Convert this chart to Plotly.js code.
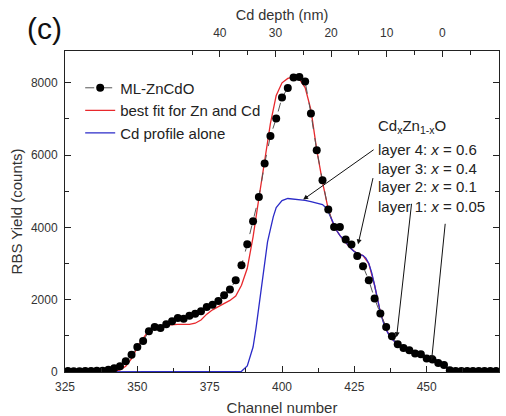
<!DOCTYPE html>
<html><head><meta charset="utf-8">
<script src="https://cdn.plot.ly/plotly-3.0.1.min.js"></script>
<style>html,body{margin:0;padding:0;background:#fff}#chart{width:506px;height:416px}</style>
</head><body><div id="chart"></div>
<script>
// Measured data (ML-ZnCdO)
const channels = [326,328,330,332,334,336,338,340,342,344,346,348,350,352,354,356,358,360,362,364,366,368,370,372,374,376,378,380,382,384,386,388,390,392,394,396,398,400,402,404,406,408,410,412,414,416,418,420,422,424,426,428,430,432,434,436,438,440,442,444,446,448,450,452,454,456,458,460,462,464,466,468,470,472,474];
const yields = [28,19,19,28,28,37,37,65,102,158,296,480,692,858,1126,1246,1218,1320,1402,1494,1476,1559,1614,1679,1798,1863,1964,2122,2279,2537,2952,3533,4169,4841,5765,6528,7010,7591,7856,8144,8160,8033,7148,6133,5303,4492,4011,4011,3662,3524,3209,2924,2537,2030,1615,1245,988,766,664,600,509,490,371,343,249,194,47,30,25,30,25,30,25,30,25];

// Best fit for Zn and Cd
const fitCh = [325,340,342,344,346,348,350,352,354,356,358,360,364,368,370,372,374,376,378,380,382,384,386,388,390,392,394,396,398,400,402,404,406,408,410,412,414,416,418,420,422,424,426,428,430,432,434,436,438,440,444,448,452,455,458,460,475];
const fitY  = [0,0,10,60,160,370,680,930,1150,1250,1285,1300,1315,1320,1350,1440,1600,1720,1810,1890,1980,2100,2400,2870,3740,4800,5880,6880,7650,8000,8120,8160,8100,7870,7250,6150,5250,4500,4020,3780,3580,3400,3280,3220,3000,2400,1650,1170,910,770,550,455,400,220,40,0,0];

// Cd profile alone
const cdCh = [325,384,386,388,390,391,392,393,394,395,396,397,398,400,402,404,406,408,410,412,414,415,416,417,418,419,420,421,422,423,424,425,426,427,428,429,430,431,432,433,434,435,436,437,438,440,442,444,446,448,450,452,453,454,455,456,457,458,459,460,475];
const cdY  = [0,0,20,170,690,1200,1800,2450,3050,3600,3950,4300,4550,4740,4800,4790,4770,4750,4710,4680,4630,4560,4430,4250,4050,3900,3780,3680,3580,3480,3400,3330,3280,3250,3220,3150,3000,2750,2400,2000,1650,1380,1170,1020,910,770,650,550,490,455,430,400,350,290,220,150,90,40,10,0,0];

// Top axis (Cd depth) ticks
const depthTicks = [40,30,20,10,0];
const depthMinor = [45,35,25,15,5,-5];

// Layer labels and arrow targets [tipChannel, tipYield, tailChannel, tailYield]
const layerLabels = ['layer 4: <i>x</i> = 0.6','layer 3: <i>x</i> = 0.4','layer 2: <i>x</i> = 0.1','layer 1: <i>x</i> = 0.05'];
const layerLabelY = [6152,5627,5118,4592];
const arrowTips = [[407.3,4769],[426.3,3532],[439.6,960],[451.7,324]];
const arrowTails = [[432.7,6207],[432.1,5599],[445.1,4888],[456.7,4335]];

const FONT = 'Liberation Sans, Arial, sans-serif';
const traces = [
  {x: fitCh, y: fitY, type:'scatter', mode:'lines', name:'best fit for Zn and Cd',
   line:{color:'#e8282c', width:1.3}, legendrank:2},
  {x: cdCh, y: cdY, type:'scatter', mode:'lines', name:'Cd profile alone',
   line:{color:'#2b2bc8', width:1.3}, legendrank:3},
  {x: channels, y: yields, type:'scatter', mode:'lines+markers', name:'ML-ZnCdO',
   line:{color:'#555', width:1, dash:'dash'}, marker:{color:'#000', size:8}, legendrank:1},
  {x:[325,475], y:[null,null], xaxis:'x2', type:'scatter', mode:'lines', showlegend:false, hoverinfo:'skip'}
];

const annotations = [
  {xref:'paper', yref:'paper', x:-0.048, y:1.07, xanchor:'center', yanchor:'middle', text:'(c)', showarrow:false, font:{family:FONT, size:30, color:'#111'}},
  {xref:'x', yref:'y', x:432.6, y:6797, xanchor:'left', yanchor:'middle', text:'Cd<sub>x</sub>Zn<sub>1-x</sub>O', showarrow:false, font:{family:FONT, size:15, color:'#222'}}
];
layerLabels.forEach((t,i)=>annotations.push({xref:'x', yref:'y', x:432.6, y:layerLabelY[i], xanchor:'left', yanchor:'middle', text:t, showarrow:false, font:{family:FONT, size:15, color:'#222'}}));
arrowTips.forEach((p,i)=>annotations.push({xref:'x', yref:'y', x:p[0], y:p[1], axref:'x', ayref:'y', ax:arrowTails[i][0], ay:arrowTails[i][1], text:' ', showarrow:true, arrowhead:2, arrowsize:1, arrowwidth:1, arrowcolor:'#111', standoff:0, startstandoff:0}));

const layout = {
  width:506, height:416,
  margin:{l:65, r:7, t:51, b:44},
  paper_bgcolor:'#fff', plot_bgcolor:'#fff',
  font:{family:FONT, color:'#333'},
  showlegend:true,
  legend:{x:0.035, y:0.936, xanchor:'left', yanchor:'top', bgcolor:'rgba(0,0,0,0)', font:{family:FONT, size:15, color:'#222'}, tracegroupgap:0},
  xaxis:{range:[325,475], tickvals:[325,350,375,400,425,450,475], ticks:'inside', ticklen:6, tickcolor:'#222', showline:true, linecolor:'#222', linewidth:1, mirror:false, showgrid:false, zeroline:false,
    minor:{tickvals:[337.5,362.5,387.5,412.5,437.5,462.5], ticks:'inside', ticklen:4, tickcolor:'#222', showgrid:false},
    tickfont:{family:FONT, size:12, color:'#333'}, ticklabelstandoff:4,
    title:{text:'Channel number', font:{family:FONT, size:15, color:'#333'}, standoff:11}},
  xaxis2:{overlaying:'x', side:'top', anchor:'y', range:[67.83,-10.19], tickvals:depthTicks, ticks:'inside', ticklen:6, tickcolor:'#222', showline:true, linecolor:'#222', linewidth:1, showgrid:false, zeroline:false,
    minor:{tickvals:depthMinor, ticks:'inside', ticklen:4, tickcolor:'#222', showgrid:false},
    tickfont:{family:FONT, size:12, color:'#333'}, ticklabelstandoff:8,
    title:{text:'Cd depth (nm)', font:{family:FONT, size:14.5, color:'#333'}, standoff:2}},
  yaxis:{range:[0,8880], tickvals:[0,2000,4000,6000,8000], ticks:'inside', ticklen:6, tickcolor:'#222', showline:true, linecolor:'#222', linewidth:1, mirror:'ticks', showgrid:false, zeroline:false,
    minor:{tickvals:[1000,3000,5000,7000], ticks:'inside', ticklen:4, tickcolor:'#222', showgrid:false},
    tickfont:{family:FONT, size:12, color:'#333'}, ticklabelstandoff:4,
    title:{text:'RBS Yield (counts)', font:{family:FONT, size:15, color:'#333'}, standoff:4}},
  annotations: annotations
};
Plotly.newPlot('chart', traces, layout, {displayModeBar:false, staticPlot:true});
</script></body></html>
